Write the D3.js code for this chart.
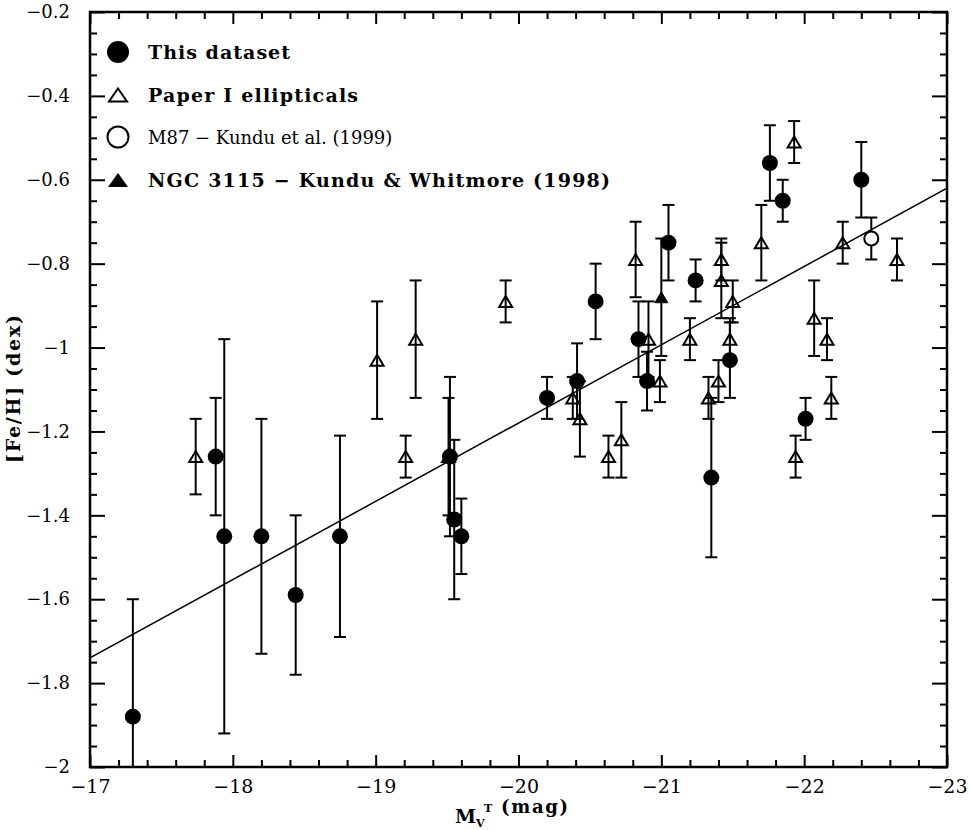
<!DOCTYPE html>
<html><head><meta charset="utf-8">
<script src="https://cdn.jsdelivr.net/npm/d3@7"></script>
<style>
html,body{margin:0;padding:0;background:#fff;}
svg{display:block;}
text{font-family:"DejaVu Serif","Liberation Serif",serif;fill:#000;}
</style></head>
<body><svg id="c" width="970" height="830"></svg>
<script>
// ---- data ----
// This dataset (filled circles): MV^T, [Fe/H], error
const dsX   = [-17.30,-17.88,-17.94,-18.20,-18.44,-18.75,-19.52,-19.55,-19.60,-20.20,-20.41,-20.54,-20.84,-20.90,-21.05,-21.24,-21.35,-21.48,-21.76,-21.85,-22.01,-22.40];
const dsY   = [-1.88,-1.26,-1.45,-1.45,-1.59,-1.45,-1.26,-1.41,-1.45,-1.12,-1.08,-0.89,-0.98,-1.08,-0.75,-0.84,-1.31,-1.03,-0.56,-0.65,-1.17,-0.60];
const dsErr = [0.28,0.14,0.47,0.28,0.19,0.24,0.19,0.19,0.09,0.05,0.09,0.09,0.09,0.07,0.09,0.05,0.19,0.09,0.09,0.05,0.05,0.09];
// Paper I ellipticals (open triangles)
const p1X   = [-17.74,-19.51,-19.01,-19.28,-19.21,-19.91,-20.38,-20.43,-20.63,-20.72,-20.82,-20.91,-20.99,-21.20,-21.33,-21.40,-21.42,-21.42,-21.48,-21.50,-21.70,-21.93,-21.94,-22.07,-22.16,-22.19,-22.27,-22.65];
const p1Y   = [-1.26,-1.26,-1.03,-0.98,-1.26,-0.89,-1.12,-1.17,-1.26,-1.22,-0.79,-0.98,-1.08,-0.98,-1.12,-1.08,-0.79,-0.84,-0.98,-0.89,-0.75,-0.51,-1.26,-0.93,-0.98,-1.12,-0.75,-0.79];
const p1Err = [0.09,0.14,0.14,0.14,0.05,0.05,0.05,0.09,0.05,0.09,0.09,0.09,0.05,0.05,0.05,0.05,0.05,0.09,0.05,0.05,0.09,0.05,0.05,0.09,0.05,0.05,0.05,0.05];
// M87 (open circle) and NGC 3115 (filled triangle)
const m87X = [-22.47], m87Y = [-0.74], m87Err = [0.05];
const ngcX = [-21.00], ngcY = [-0.88], ngcErr = [0.14];
// fitted line
const fitX = [-17, -23], fitY = [-1.74, -0.62];
// ticks
const xMajor = [-17,-18,-19,-20,-21,-22,-23];
const yMajor = [-2,-1.8,-1.6,-1.4,-1.2,-1,-0.8,-0.6,-0.4,-0.2];
const legendLabels = ["This dataset","Paper I ellipticals","M87 \u2212 Kundu et al. (1999)","NGC 3115 \u2212 Kundu & Whitmore (1998)"];

// ---- drawing ----
const L=90,R=947,T=12,B=767;
const svg=d3.select("#c");
const x=d3.scaleLinear().domain([-17,-23]).range([L,R]);
const y=d3.scaleLinear().domain([-2,-0.2]).range([B,T]);
const fmt=v=>(v<0?"\u2212":"")+Math.abs(v).toString();

const xMinor=d3.range(0,31).map(i=>-17-i*0.2).filter(v=>!xMajor.some(m=>Math.abs(m-v)<1e-6));
const yMinor=d3.range(0,37).map(i=>-2+i*0.05).filter(v=>!yMajor.some(m=>Math.abs(m-v)<1e-6));

function styleAxis(g){g.select(".domain").remove();g.selectAll("line").attr("stroke","#000").attr("stroke-width",2);}
// bottom
svg.append("g").attr("transform",`translate(0,${B})`).call(d3.axisBottom(x).tickValues(xMajor).tickSize(-12).tickPadding(13).tickFormat(fmt)).call(styleAxis)
  .selectAll("text").attr("font-size",19).attr("font-family","DejaVu Serif");
svg.append("g").attr("transform",`translate(0,${B})`).call(d3.axisBottom(x).tickValues(xMinor).tickSize(-7).tickFormat("")).call(styleAxis);
// top
svg.append("g").attr("transform",`translate(0,${T})`).call(d3.axisTop(x).tickValues(xMajor).tickSize(-12).tickFormat("")).call(styleAxis);
svg.append("g").attr("transform",`translate(0,${T})`).call(d3.axisTop(x).tickValues(xMinor).tickSize(-7).tickFormat("")).call(styleAxis);
// left
svg.append("g").attr("transform",`translate(${L},0)`).call(d3.axisLeft(y).tickValues(yMajor).tickSize(-15).tickPadding(20).tickFormat(fmt)).call(styleAxis)
  .selectAll("text").attr("font-size",18).attr("font-family","DejaVu Serif");
svg.append("g").attr("transform",`translate(${L},0)`).call(d3.axisLeft(y).tickValues(yMinor).tickSize(-7).tickFormat("")).call(styleAxis);
// right
svg.append("g").attr("transform",`translate(${R},0)`).call(d3.axisRight(y).tickValues(yMajor).tickSize(-15).tickFormat("")).call(styleAxis);
svg.append("g").attr("transform",`translate(${R},0)`).call(d3.axisRight(y).tickValues(yMinor).tickSize(-7).tickFormat("")).call(styleAxis);
// frame
svg.append("rect").attr("x",L).attr("y",T).attr("width",R-L).attr("height",B-T).attr("fill","none").attr("stroke","#000").attr("stroke-width",2.5);

svg.append("clipPath").attr("id","clip").append("rect").attr("x",L).attr("y",T).attr("width",R-L).attr("height",B-T);
const plot=svg.append("g").attr("clip-path","url(#clip)");

// fit line
plot.append("line").attr("x1",x(fitX[0])).attr("y1",y(fitY[0])).attr("x2",x(fitX[1])).attr("y2",y(fitY[1]))
  .attr("stroke","#000").attr("stroke-width",1.5);

function errbars(X,Y,E){
  const g=plot.append("g").attr("stroke","#000").attr("stroke-width",2).attr("fill","none");
  X.forEach((xv,i)=>{
    const cx=x(xv),y1=y(Y[i]+E[i]),y2=y(Y[i]-E[i]);
    g.append("line").attr("x1",cx).attr("x2",cx).attr("y1",y1).attr("y2",y2);
    g.append("line").attr("x1",cx-6).attr("x2",cx+6).attr("y1",y1).attr("y2",y1);
    g.append("line").attr("x1",cx-6).attr("x2",cx+6).attr("y1",y2).attr("y2",y2);
  });
}
const tri=(w,h)=>`M0,${-h/2}L${w/2},${h/2}L${-w/2},${h/2}Z`;

errbars(p1X,p1Y,p1Err);
errbars(ngcX,ngcY,ngcErr);
errbars(m87X,m87Y,m87Err);
errbars(dsX,dsY,dsErr);

plot.append("g").selectAll("path").data(p1X).join("path")
  .attr("d",tri(13,11)).attr("transform",(d,i)=>`translate(${x(d)},${y(p1Y[i])})`)
  .attr("fill","none").attr("stroke","#000").attr("stroke-width",2);
plot.append("g").selectAll("path").data(ngcX).join("path")
  .attr("d",tri(13,11)).attr("transform",(d,i)=>`translate(${x(d)},${y(ngcY[i])})`)
  .attr("fill","#000").attr("stroke","#000").attr("stroke-width",1);
plot.append("g").selectAll("circle").data(m87X).join("circle")
  .attr("cx",d=>x(d)).attr("cy",(d,i)=>y(m87Y[i])).attr("r",7)
  .attr("fill","#fff").attr("stroke","#000").attr("stroke-width",2);
plot.append("g").selectAll("circle").data(dsX).join("circle")
  .attr("cx",d=>x(d)).attr("cy",(d,i)=>y(dsY[i])).attr("r",8).attr("fill","#000");

// legend
const lgY=[52,95,137,180], lgMX=118, lgTX=148, lgW=[142,210,null,462];
const lg=svg.append("g");
lg.append("circle").attr("cx",lgMX).attr("cy",lgY[0]).attr("r",11).attr("fill","#000");
lg.append("path").attr("d",tri(18,13)).attr("transform",`translate(${lgMX},${lgY[1]})`).attr("fill","none").attr("stroke","#000").attr("stroke-width",2);
lg.append("circle").attr("cx",lgMX).attr("cy",lgY[2]).attr("r",10.5).attr("fill","none").attr("stroke","#000").attr("stroke-width",2);
lg.append("path").attr("d",tri(20,14)).attr("transform",`translate(${lgMX},${lgY[3]})`).attr("fill","#000");
lg.selectAll("text").data(legendLabels).join("text")
  .attr("x",lgTX).attr("y",(d,i)=>lgY[i]+7).attr("font-size",(d,i)=>i===2?18:19).attr("font-weight",(d,i)=>i===2?"normal":"bold")
  .each(function(d,i){ if(lgW[i]) d3.select(this).attr("textLength",lgW[i]).attr("lengthAdjust","spacing"); })
  .text(d=>d);

// axis labels
const xl=svg.append("text").attr("font-size",19).attr("font-weight","bold");
xl.append("tspan").attr("x",455).attr("y",823).text("M");
xl.append("tspan").attr("x",476).attr("y",827).attr("font-size",11).text("V");
xl.append("tspan").attr("x",484).attr("y",812).attr("font-size",11).text("T");
svg.append("text").attr("x",501).attr("y",813).attr("font-size",18).attr("font-weight","bold")
  .attr("textLength",67).attr("lengthAdjust","spacing").text("(mag)");
svg.append("text").attr("transform","translate(20,389) rotate(-90)").attr("text-anchor","middle")
  .attr("font-size",19).attr("font-weight","bold").attr("textLength",148).attr("lengthAdjust","spacing").text("[Fe/H] (dex)");
</script></body></html>
